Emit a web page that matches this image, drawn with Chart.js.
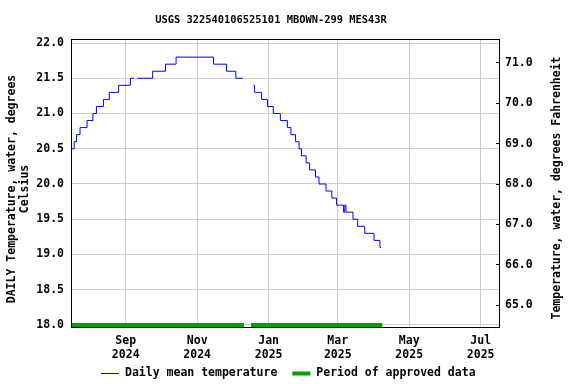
<!DOCTYPE html>
<html>
<head>
<meta charset="utf-8">
<script src="https://cdn.jsdelivr.net/npm/chart.js@4.4.1/dist/chart.umd.min.js"></script>
<style>
  html, body { margin: 0; padding: 0; background: #fff; }
</style>
</head>
<body>
<canvas id="grafico" width="576" height="384"></canvas>
<script>
// dias em que a temperatura muda de nivel (null = falta de dados)
const datas = [
  '2024-07-17', '2024-07-19', '2024-07-21', '2024-07-24', '2024-07-30',
  '2024-08-04', '2024-08-07', '2024-08-13', '2024-08-18', '2024-08-26',
  '2024-09-05', '2024-09-08', '2024-09-09',
  '2024-09-11', '2024-09-24', '2024-10-05', '2024-10-14', '2024-11-15',
  '2024-11-26', '2024-12-04', '2024-12-10', '2024-12-14',
  '2024-12-19', '2024-12-20', '2024-12-26', '2024-12-31', '2025-01-05',
  '2025-01-11', '2025-01-17', '2025-01-20', '2025-01-24', '2025-01-27',
  '2025-01-29', '2025-02-02', '2025-02-05', '2025-02-10', '2025-02-13',
  '2025-02-19', '2025-02-24', '2025-02-28', '2025-03-06', '2025-03-07',
  '2025-03-08', '2025-03-14', '2025-03-18', '2025-03-24', '2025-04-01',
  '2025-04-06', '2025-04-07'
];
const temperaturas = [
  20.5, 20.6, 20.7, 20.8, 20.9,
  21.0, 21.1, 21.2, 21.3, 21.4,
  21.5, 21.5, null,
  21.5, 21.6, 21.7, 21.8, 21.7,
  21.6, 21.5, 21.5, null,
  21.4, 21.3, 21.2, 21.1, 21.0,
  20.9, 20.8, 20.7, 20.6, 20.5,
  20.4, 20.3, 20.2, 20.1, 20.0,
  19.9, 19.8, 19.7, 19.6, 19.7,
  19.6, 19.5, 19.4, 19.3, 19.2,
  19.1, 19.1
];

// periodos aprovados
const aprovadoInicio = ['2024-07-16', '2024-12-17'];
const aprovadoFim = ['2024-12-11', '2025-04-08'];

// eixos
const meses = ['2024-09-01', '2024-11-01', '2025-01-01', '2025-03-01', '2025-05-01', '2025-07-01'];
const rotulosMes = [['Sep', '2024'], ['Nov', '2024'], ['Jan', '2025'], ['Mar', '2025'], ['May', '2025'], ['Jul', '2025']];
const ticksC = [18.0, 18.5, 19.0, 19.5, 20.0, 20.5, 21.0, 21.5, 22.0];
const ticksF = [65, 66, 67, 68, 69, 70, 71];

const titulo = 'USGS 322540106525101 MBOWN-299 MES43R';
const tituloC = ['DAILY Temperature, water, degrees', 'Celsius'];
const tituloF = 'Temperature, water, degrees Fahrenheit';

const origem = Date.parse('2024-07-01');
const dia = s => (Date.parse(s) - origem) / 864e5;

const fonte = 'DejaVu Sans Mono';
Chart.defaults.font.family = fonte;
Chart.defaults.font.weight = 'bold';
Chart.defaults.color = '#000';

const linhaDiaria = datas.map((d, i) => ({ x: dia(d), y: temperaturas[i] }));
const linhaAprovado = [];
aprovadoInicio.forEach((d, i) => {
  linhaAprovado.push({ x: dia(d), y: 18 });
  linhaAprovado.push({ x: dia(aprovadoFim[i]), y: 18 });
  linhaAprovado.push({ x: dia(aprovadoFim[i]) + 1, y: null });
});

// moldura, titulos e legenda
const extras = {
  id: 'extras',
  afterDraw(chart) {
    const { ctx, chartArea: a } = chart;
    ctx.save();
    ctx.strokeStyle = '#000';
    ctx.lineWidth = 1;
    ctx.strokeRect(a.left + 0.5, a.top + 0.5, a.right - a.left - 1, a.bottom - a.top - 1);

    ctx.fillStyle = '#000';
    ctx.textAlign = 'center';
    ctx.textBaseline = 'middle';
    ctx.font = 'bold 10.4px "' + fonte + '"';
    ctx.fillText(titulo, 271, 20);

    ctx.font = 'bold 11.5px "' + fonte + '"';
    ctx.save();
    ctx.translate(12, 189);
    ctx.rotate(-Math.PI / 2);
    tituloC.forEach((t, i) => ctx.fillText(t, 0, i * 13));
    ctx.restore();

    ctx.save();
    ctx.translate(557, 188);
    ctx.rotate(-Math.PI / 2);
    ctx.fillText(tituloF, 0, 0);
    ctx.restore();

    // legenda
    const itens = chart.data.datasets.map(ds => ({ texto: ds.label, cor: ds.borderColor, larg: ds.borderWidth }));
    const total = itens.reduce((s, it) => s + 24 + ctx.measureText(it.texto).width, 0) + 15 * (itens.length - 1);
    let x = Math.round((576 - total) / 2);
    const y = 373;
    ctx.textAlign = 'left';
    itens.forEach(it => {
      ctx.strokeStyle = it.cor;
      ctx.lineWidth = it.larg;
      ctx.beginPath();
      ctx.moveTo(x, y + 0.5);
      ctx.lineTo(x + 18, y + 0.5);
      ctx.stroke();
      ctx.fillText(it.texto, x + 24, y);
      x += 24 + ctx.measureText(it.texto).width + 15;
    });
    ctx.restore();
  }
};

const grafico = new Chart(document.getElementById('grafico'), {
  type: 'line',
  data: {
    datasets: [{
      label: 'Daily mean temperature',
      data: linhaDiaria,
      borderColor: '#0000ff',
      borderWidth: 1,
      pointRadius: 0,
      stepped: true,
      spanGaps: false,
      yAxisID: 'y'
    }, {
      label: 'Period of approved data',
      data: linhaAprovado,
      borderColor: '#00a000',
      borderWidth: 4,
      pointRadius: 0,
      spanGaps: false,
      yAxisID: 'y'
    }]
  },
  options: {
    responsive: false,
    animation: false,
    events: [],
    layout: { padding: { left: 0, right: 0, top: 39, bottom: 0 } },
    plugins: {
      tooltip: { enabled: false },
      title: { display: false },
      legend: { display: false }
    },
    scales: {
      x: {
        type: 'linear',
        min: 15.3,
        max: 381.5,
        afterBuildTicks: s => { s.ticks = meses.map(m => ({ value: dia(m) })); },
        afterFit: s => { s.height = 56; },
        ticks: {
          autoSkip: false,
          maxRotation: 0,
          padding: 6,
          font: { size: 11.5, lineHeight: 14 / 11.5 },
          callback: (v, i) => rotulosMes[i]
        },
        grid: { color: '#cccccc', drawTicks: false },
        border: { display: false }
      },
      y: {
        position: 'left',
        min: 17.957,
        max: 22.057,
        afterBuildTicks: s => { s.ticks = ticksC.map(v => ({ value: v })); },
        afterFit: s => { s.width = 71; },
        ticks: { padding: 7, font: { size: 11.5 }, callback: v => v.toFixed(1) },
        grid: { color: '#cccccc', drawTicks: false },
        border: { display: false }
      },
      yF: {
        position: 'right',
        min: 64.43,
        max: 71.595,
        afterBuildTicks: s => { s.ticks = ticksF.map(v => ({ value: v })); },
        afterFit: s => { s.width = 76; },
        ticks: { padding: 9, font: { size: 11.5 }, callback: v => v.toFixed(1) },
        grid: { drawOnChartArea: false, drawTicks: true, tickLength: -4, color: '#000' },
        border: { display: false }
      }
    }
  },
  plugins: [extras]
});
</script>
</body>
</html>
